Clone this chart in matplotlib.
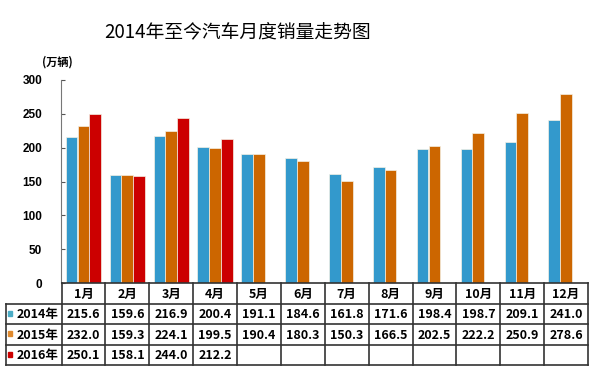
import matplotlib
matplotlib.use("Agg")
import matplotlib.pyplot as plt
import numpy as np
from matplotlib.patches import Rectangle

plt.rcParams['font.family'] = ['Noto Sans CJK SC', 'DejaVu Sans']

months = ['1月', '2月', '3月', '4月', '5月', '6月', '7月', '8月', '9月', '10月', '11月', '12月']
series_names = ['2014年', '2015年', '2016年']
v2014 = [215.6, 159.6, 216.9, 200.4, 191.1, 184.6, 161.8, 171.6, 198.4, 198.7, 209.1, 241.0]
v2015 = [232.0, 159.3, 224.1, 199.5, 190.4, 180.3, 150.3, 166.5, 202.5, 222.2, 250.9, 278.6]
v2016 = [250.1, 158.1, 244.0, 212.2]
bar_colors = ['#3399CC', '#CC6600', '#CC0000']
key_colors = ['#4BACC6', '#E08A2E', '#CC0000']
yticks = [0, 50, 100, 150, 200, 250, 300]
title = '2014年至今汽车月度销量走势图'
unit = '(万辆)'

W, H = 600, 372
fig = plt.figure(figsize=(6, 3.72), dpi=100)

ax_l, ax_r, ax_b, ax_t = 61.5, 588, 283, 80
ax = fig.add_axes([ax_l / W, 1 - ax_b / H, (ax_r - ax_l) / W, (ax_b - ax_t) / H])

series = [v2014, v2015, v2016]
step = 0.27
bw = 0.265
for i, vals in enumerate(series):
    x = np.arange(len(vals)) + (i - 1) * step
    ax.bar(x, vals, width=bw, color=bar_colors[i], edgecolor='#F4F1E4', linewidth=0.5, zorder=2)

ax.set_xlim(-0.5, 11.5)
ax.set_ylim(0, 300)
ax.set_yticks(yticks)
ax.set_yticklabels([str(t) for t in yticks], fontfamily='Liberation Sans', fontweight='bold', fontsize=8.5)
ax.tick_params(axis='y', direction='in', length=3, pad=14, color='#555555')
ax.set_xticks([])
for s in ['top', 'right']:
    ax.spines[s].set_visible(False)
ax.spines['left'].set_color('#777777')
ax.spines['bottom'].set_color('#333333')
ax.spines['bottom'].set_linewidth(1.2)

# table
t_l, t_b, t_t = 6, 365, 283
unit_px = (ax_r - ax_l) / 12.0
xleft = -0.5 - (ax_l - t_l) / unit_px
tax = fig.add_axes([t_l / W, 1 - t_b / H, (ax_r - t_l) / W, (t_b - t_t) / H])
tax.set_xlim(xleft, 11.5)
tax.set_ylim(4, 0)
tax.axis('off')
lc = '#333333'
lw = 1.2
for r in [1, 2, 3, 4]:
    tax.plot([xleft, 11.5], [r, r], color=lc, lw=lw, clip_on=False, solid_capstyle='projecting')
for k in range(13):
    tax.plot([k - 0.5, k - 0.5], [0, 4], color=lc, lw=lw, clip_on=False)
tax.plot([xleft, xleft], [1, 4], color=lc, lw=lw, clip_on=False)

tfont = dict(fontsize=9, fontweight='bold', ha='center', va='center')
for k, m in enumerate(months):
    tax.text(k, 0.55, m, **tfont)
for r, vals in enumerate(series):
    for k, v in enumerate(vals):
        tax.text(k, r + 1.55, f'{v:.1f}', **tfont)
    xk = -0.5 - (ax_l - 10) / unit_px
    tax.add_patch(Rectangle((xk - 0.05, r + 1.35), 0.1, 0.25, color=key_colors[r], clip_on=False))
    tax.text(-0.5 - (ax_l - 17) / unit_px, r + 1.55, series_names[r], fontsize=9, fontweight='bold',
             ha='left', va='center')

fig.text(238 / W, 1 - 33 / H, title, fontsize=13.5, ha='center', va='center')
fig.text(57 / W, 1 - 62 / H, unit, fontsize=8, fontweight='bold', ha='center', va='center')

fig.savefig('out.png', dpi=100)
